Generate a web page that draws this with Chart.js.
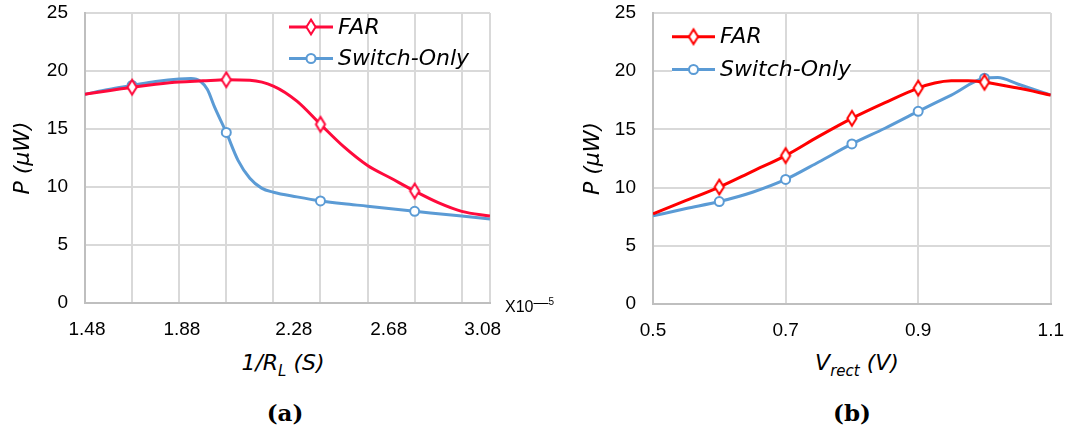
<!DOCTYPE html>
<html><head><meta charset="utf-8">
<script src="https://cdn.jsdelivr.net/npm/chart.js@4.4.1/dist/chart.umd.min.js"></script>
<style>
html,body{margin:0;padding:0;background:#fff;}
#wrap{position:relative;width:1079px;height:432px;overflow:hidden;background:#fff;}
canvas{position:absolute;top:0;}
.t{position:absolute;white-space:nowrap;color:#000;transform:translateX(-50%);}
.xt{font:italic 22px "DejaVu Sans";line-height:26px;}
.cap{font:bold 23px "DejaVu Serif";line-height:28px;}
.sb{font-size:15px;position:relative;top:6px;}
.mul{position:absolute;left:505px;top:299px;font:16px "Liberation Sans";line-height:16px;white-space:nowrap;color:#000;}
</style></head><body>
<div id="wrap">
<canvas id="c1" width="540" height="345" style="left:0px"></canvas>
<canvas id="c2" width="509" height="345" style="left:570px"></canvas>
<div class="mul">X10<span style="font-size:15px;position:relative;top:-5px">—</span><span style="font-size:10px;position:relative;top:-7px">5</span></div>
<div class="t xt" style="left:283px;top:350px">1/R<span class="sb">L</span> (S)</div>
<div class="t xt" style="left:857px;top:350px">V<span class="sb">rect</span> (V)</div>
<div class="t cap" style="left:285px;top:399px">(a)</div>
<div class="t cap" style="left:852px;top:399px">(b)</div>
</div>
<script>
// ---------- data ----------
const seriesNames = ['FAR', 'Switch-Only'];

// (a) P vs 1/R_L (x in units of 1e-5 S)
const farAX = [1.48,1.58,1.68,1.78,1.88,1.98,2.08,2.18,2.28,2.38,2.48,2.58,2.68,2.78,2.88,2.98,3.08,3.20];
const farAY = [18.0,18.3,18.6,18.85,19.05,19.15,19.25,19.2,18.7,17.4,15.4,13.45,11.85,10.75,9.65,8.65,7.9,7.5];
const swAX  = [1.48,1.58,1.68,1.78,1.88,1.93,1.97,2.00,2.03,2.08,2.13,2.18,2.23,2.28,2.38,2.48,2.58,2.68,2.88,2.98,3.08,3.20];
const swAY  = [18.0,18.4,18.75,19.1,19.32,19.35,19.12,18.4,16.9,14.7,12.3,10.75,9.9,9.55,9.15,8.8,8.55,8.35,7.9,7.7,7.5,7.25];
const markAX = [1.68,2.08,2.48,2.88];
const tickALabels = ['1.48','1.88','2.28','2.68','3.08'];
const tickAPos    = [1.4885,1.8917,2.367,2.770,3.169];

// (b) P vs V_rect
const farBX = [0.50,0.55,0.60,0.65,0.70,0.75,0.80,0.85,0.90,0.925,0.95,0.975,1.00,1.05,1.10];
const farBY = [7.75,8.9,10.05,11.4,12.75,14.4,15.95,17.3,18.55,18.98,19.17,19.18,19.05,18.55,17.95];
const swBX  = [0.50,0.55,0.60,0.65,0.70,0.75,0.80,0.85,0.90,0.95,1.00,1.02,1.05,1.10];
const swBY  = [7.57,8.2,8.8,9.6,10.7,12.2,13.75,15.1,16.55,17.95,19.4,19.45,18.9,17.95];
const markBX = [0.6,0.7,0.8,0.9,1.0];
const tickBLabels = ['0.5','0.7','0.9','1.1'];
const tickBPos    = [0.5,0.7,0.9,1.1];

const yTicks = [0,5,10,15,20,25];

// ---------- styling helpers ----------
const BLUE = '#5B9BD5';
const RED_A = '#FF0A3C';
const RED_B = '#FF0000';
const GRID = '#D9D9D9';
const AXIS = '#BFBFBF';

function diamondCanvas(color){
  const c = document.createElement('canvas');
  c.width = 14; c.height = 20;
  const g = c.getContext('2d');
  g.beginPath();
  g.moveTo(7,2.6); g.lineTo(11.6,10); g.lineTo(7,17.4); g.lineTo(2.4,10); g.closePath();
  g.fillStyle = '#fff'; g.fill();
  g.lineWidth = 2; g.strokeStyle = color; g.stroke();
  return c;
}

function pts(xs, ys){ return xs.map((x,i)=>({x:x, y:ys[i]})); }
function isMark(list, v){ return list.some(m => Math.abs(m - v) < 1e-6); }

const legendPlugin = {
  id: 'fakeLegend',
  beforeDatasetsDraw(chart, args, opts){
    if (!opts || !opts.masks) return;
    const ctx = chart.ctx;
    ctx.save(); ctx.fillStyle = '#fff';
    opts.masks.forEach(m => ctx.fillRect(m[0], m[1], m[2], m[3]));
    ctx.restore();
  },
  afterDatasetsDraw(chart, args, opts){
    if (!opts || !opts.y) return;
    const ctx = chart.ctx;
    chart.data.datasets.forEach((ds, i) => {
      const y = opts.y[i];
      ctx.save();
      ctx.strokeStyle = ds.borderColor; ctx.lineWidth = 3;
      ctx.beginPath(); ctx.moveTo(opts.x0, y); ctx.lineTo(opts.x1, y); ctx.stroke();
      const cx = (opts.x0 + opts.x1) / 2;
      if (ds.markerImg) {
        ctx.drawImage(ds.markerImg, cx - ds.markerImg.width/2, y - ds.markerImg.height/2);
      } else {
        ctx.beginPath(); ctx.arc(cx, y, 4.5, 0, Math.PI*2);
        ctx.fillStyle = '#fff'; ctx.fill();
        ctx.lineWidth = 2; ctx.strokeStyle = ds.borderColor; ctx.stroke();
      }
      ctx.fillStyle = '#000';
      ctx.font = 'italic 22px "DejaVu Sans"';
      ctx.textBaseline = 'middle'; ctx.textAlign = 'left';
      ctx.fillText(ds.label, opts.tx, y + 1);
      ctx.restore();
    });
  }
};

function makeDatasets(redColor, fx, fy, sx, sy, marks){
  const dImg = diamondCanvas(redColor);
  return [
    {
      label: seriesNames[0], data: pts(fx, fy),
      borderColor: redColor, borderWidth: 3, cubicInterpolationMode: 'monotone',
      pointStyle: dImg, markerImg: dImg,
      pointRadius: c => isMark(marks, c.raw.x) ? 7 : 0,
      pointHoverRadius: 0, backgroundColor: '#fff', fill: false
    },
    {
      label: seriesNames[1], data: pts(sx, sy),
      borderColor: BLUE, borderWidth: 3, cubicInterpolationMode: 'monotone',
      pointStyle: 'circle',
      pointRadius: c => isMark(marks, c.raw.x) ? 4.5 : 0,
      pointBorderWidth: 2, pointBackgroundColor: '#fff', pointBorderColor: BLUE,
      pointHoverRadius: 0, fill: false
    }
  ];
}

const tickFont = {family: '"Liberation Sans", Arial, sans-serif', size: 19};

function yAxis(width){
  return {
    type: 'linear', min: 0, max: 25,
    afterBuildTicks: s => { s.ticks = yTicks.map(v => ({value: v})); },
    afterFit: s => { s.width = width; s.paddingTop = 0; s.paddingBottom = 0; },
    grid: {color: GRID, lineWidth: 2, drawTicks: false},
    border: {color: AXIS, width: 2},
    ticks: {font: tickFont, color: '#000', padding: 17},
    title: {display: true, text: 'P (\u03BCW)', color: '#000', padding: {top: 10, bottom: 0},
            font: {family: '"DejaVu Sans"', style: 'italic', size: 22}}
  };
}

// ---------- chart (a) ----------
const gridA = [];
for (let k = 0; k <= 8; k++) gridA.push(+(1.48 + 0.2 * k).toFixed(2));
gridA.push(3.2);

new Chart(document.getElementById('c1'), {
  type: 'line',
  data: { datasets: makeDatasets(RED_A, farAX, farAY, swAX, swAY, markAX) },
  options: {
    responsive: false, animation: false, events: [],
    layout: {padding: {left: 0, right: 50, top: 13, bottom: 0}},
    plugins: {
      legend: {display: false}, tooltip: {enabled: false},
      fakeLegend: {x0: 289, x1: 333, tx: 338, y: [27, 58.5]}
    },
    scales: {
      x: {
        type: 'linear', min: 1.48, max: 3.2, position: 'bottom',
        afterBuildTicks: s => { s.ticks = gridA.map(v => ({value: v})); },
        afterFit: s => { s.height = 0; s.paddingLeft = 0; s.paddingRight = 0; },
        grid: {color: GRID, lineWidth: 2, drawTicks: false},
        border: {color: AXIS, width: 2},
        ticks: {display: false}
      },
      xl: {
        type: 'linear', min: 1.48, max: 3.2, position: 'bottom',
        afterBuildTicks: s => { s.ticks = tickAPos.map(v => ({value: v})); },
        afterFit: s => { s.height = 42; },
        grid: {display: false, drawTicks: false},
        border: {display: false},
        ticks: {font: tickFont, color: '#000', padding: 15, autoSkip: false, maxRotation: 0,
                callback: (v, i) => tickALabels[i]}
      },
      y: yAxis(85)
    }
  },
  plugins: [legendPlugin]
});

// ---------- chart (b) ----------
new Chart(document.getElementById('c2'), {
  type: 'line',
  data: { datasets: makeDatasets(RED_B, farBX, farBY, swBX, swBY, markBX) },
  options: {
    responsive: false, animation: false, events: [],
    layout: {padding: {left: 0, right: 20, top: 13, bottom: 0}},
    plugins: {
      legend: {display: false}, tooltip: {enabled: false},
      fakeLegend: {x0: 102, x1: 145, tx: 150, y: [36.7, 69.5],
                   masks: [[102, 66, 114.5, 10], [219.5, 66, 60.5, 10]]}
    },
    scales: {
      x: {
        type: 'linear', min: 0.5, max: 1.1, position: 'bottom',
        afterBuildTicks: s => { s.ticks = tickBPos.map(v => ({value: v})); },
        afterFit: s => { s.height = 41; },
        grid: {color: GRID, lineWidth: 2, drawTicks: false},
        border: {color: AXIS, width: 2},
        ticks: {font: tickFont, color: '#000', padding: 15, autoSkip: false, maxRotation: 0,
                callback: (v, i) => tickBLabels[i]}
      },
      y: yAxis(83)
    }
  },
  plugins: [legendPlugin]
});
</script>
</body></html>
